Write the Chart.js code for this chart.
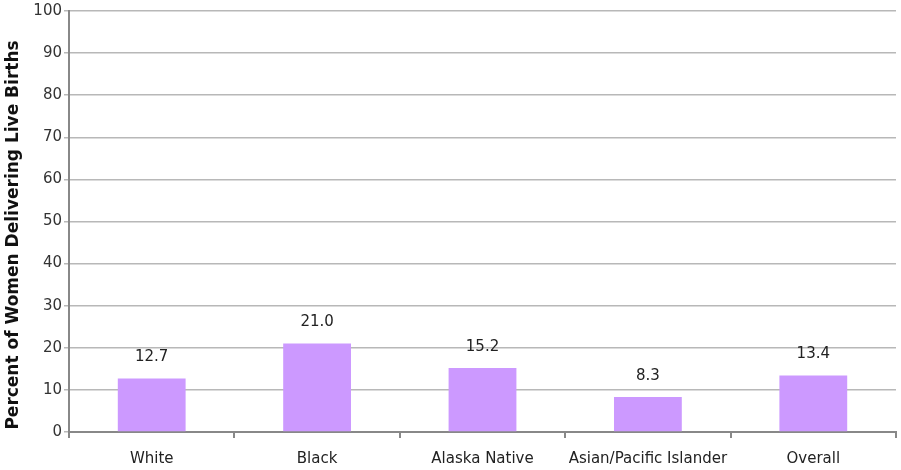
<!DOCTYPE html>
<html>
<head>
<meta charset="utf-8">
<script src="https://cdn.jsdelivr.net/npm/chart.js@4/dist/chart.umd.min.js"></script>
<style>
html,body{margin:0;padding:0;background:#fff;}
#wrap{width:901px;height:470px;position:relative;}
</style>
</head>
<body>
<div id="wrap"><canvas id="c" width="901" height="470"></canvas></div>
<script>
const categories = ["White", "Black", "Alaska Native", "Asian/Pacific Islander", "Overall"];
const percentValues = [12.7, 21.0, 15.2, 8.3, 13.4];
const yTicks = [0, 10, 20, 30, 40, 50, 60, 70, 80, 90, 100];
const yTitle = "Percent of Women Delivering Live Births";

const labelPlugin = {
  id: 'valueLabels',
  afterDatasetsDraw(chart) {
    const ctx = chart.ctx;
    const meta = chart.getDatasetMeta(0);
    ctx.save();
    ctx.font = '15px "DejaVu Sans", sans-serif';
    ctx.fillStyle = '#222';
    ctx.textAlign = 'center';
    ctx.textBaseline = 'middle';
    meta.data.forEach((bar, i) => {
      ctx.fillText(percentValues[i].toFixed(1), bar.x, bar.y - 21);
    });
    // rotated axis title
    ctx.translate(14, 235);
    ctx.rotate(-Math.PI / 2);
    ctx.font = 'bold 17px "DejaVu Sans", sans-serif';
    ctx.fillStyle = '#111';
    ctx.fillText(yTitle, 0, 0);
    ctx.restore();
  }
};

new Chart(document.getElementById('c'), {
  type: 'bar',
  data: {
    labels: categories,
    datasets: [{
      data: percentValues,
      backgroundColor: '#cc99ff',
      borderWidth: 0,
      barPercentage: 0.82,
      categoryPercentage: 0.5
    }]
  },
  options: {
    responsive: false,
    animation: false,
    layout: { padding: { top: 11, right: 5, left: 0, bottom: 0 } },
    plugins: { legend: { display: false }, tooltip: { enabled: false } },
    scales: {
      x: {
        grid: { offset: true, drawOnChartArea: false, drawTicks: true, tickLength: 6, color: '#888', lineWidth: 2 },
        border: { color: '#888', width: 2 },
        ticks: { color: '#222', font: { family: '"DejaVu Sans", sans-serif', size: 15 }, padding: 12, maxRotation: 0 },
        afterFit(scale) { scale.height = 38; }
      },
      y: {
        min: 0, max: 100,
        afterBuildTicks(scale) { scale.ticks = yTicks.map(v => ({ value: v })); },
        grid: { color: '#b8b8b8', lineWidth: 1.5, drawTicks: true, tickLength: 5 },
        border: { color: '#888', width: 2 },
        ticks: { color: '#333', font: { family: '"DejaVu Sans", sans-serif', size: 15 }, padding: 2 },
        afterFit(scale) { scale.width = 69; }
      }
    }
  },
  plugins: [labelPlugin]
});
</script>
</body>
</html>
